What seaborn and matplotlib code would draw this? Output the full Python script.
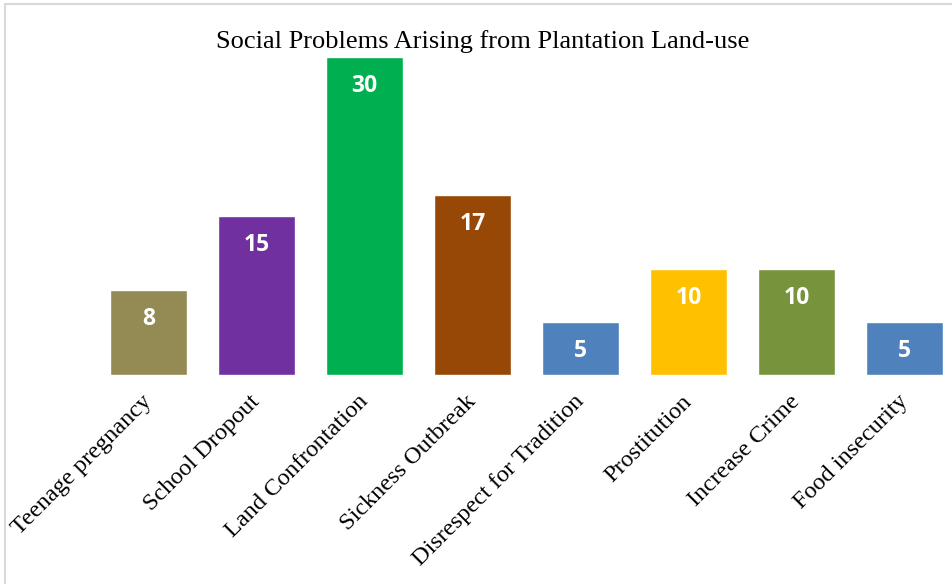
import matplotlib
matplotlib.use("Agg")
import matplotlib.pyplot as plt
import seaborn as sns
import pandas as pd
from matplotlib.patches import Rectangle

categories = ["Teenage pregnancy", "School Dropout", "Land Confrontation",
              "Sickness Outbreak", "Disrespect for Tradition", "Prostitution",
              "Increase Crime", "Food insecurity"]
values = [8, 15, 30, 17, 5, 10, 10, 5]
colors = ["#948A54", "#7030A0", "#00B050", "#974706", "#4F81BD",
          "#FFC000", "#77933C", "#4F81BD"]
title = "Social Problems Arising from Plantation Land-use"

sns.set_theme(style="white")

W, H = 952, 584
fig = plt.figure(figsize=(W / 100, H / 100), dpi=100)
left_px, right_px = 94.5, 952
top_px, bottom_px = 57, 375
ax = fig.add_axes([left_px / W, (H - bottom_px) / H,
                   (right_px - left_px) / W, (bottom_px - top_px) / H])

df = pd.DataFrame({"category": categories, "value": values})
sns.barplot(data=df, x="category", y="value", hue="category",
            palette=colors, width=0.713, legend=False, ax=ax,
            saturation=1)

ax.set_xlim(-0.5, (right_px - 148.5) / 108)
ax.set_ylim(0, 30)
for s in ax.spines.values():
    s.set_visible(False)
ax.set_yticks([])
ax.set_xlabel("")
ax.set_ylabel("")
ax.tick_params(axis="x", length=0, pad=17)
ax.set_xticks(range(len(categories)))
ax.set_xticklabels(categories, rotation=45, ha="right", va="center",
                   rotation_mode="anchor", fontsize=17.5,
                   family="Liberation Serif", color="black")

for i, v in enumerate(values):
    ax.annotate(str(v), xy=(i, v), xytext=(0, -29), textcoords="offset pixels",
                ha="center", va="center", color="white", fontsize=16.5,
                fontweight="bold", family="Open Sans")

fig.text(483 / W, (H - 48) / H, title, ha="center", va="baseline",
         fontsize=19, family="Liberation Serif", color="black")

fig.patches.append(Rectangle((4.5 / W, -0.1), 1.2, (H - 4.5) / H + 0.1,
                             transform=fig.transFigure, fill=False,
                             edgecolor="#d9d9d9", linewidth=1.5))

fig.savefig("out.png", dpi=100)
